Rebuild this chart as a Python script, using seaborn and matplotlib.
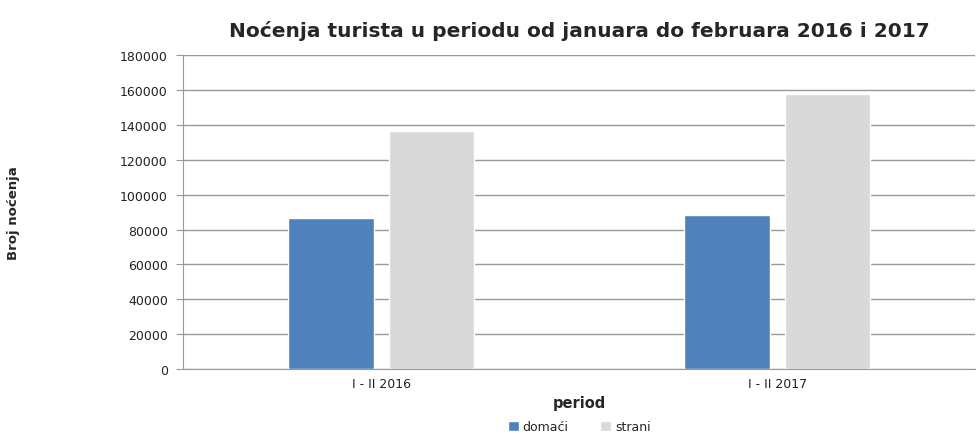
import numpy as np
import pandas as pd
import matplotlib.pyplot as plt
import seaborn as sns

# data
periods = ["I - II 2016", "I - II 2017"]
series = ["domaći", "strani"]
domaci = [86600, 88300]
strani = [136300, 157600]
colors = ["#4f81bd", "#d9d9d9"]
yticks = np.arange(0, 180001, 20000)

df = pd.DataFrame({
    "period": periods * 2,
    "tip": [series[0]] * 2 + [series[1]] * 2,
    "vrijednost": domaci + strani,
})

sns.set_style("white")
plt.rcParams['font.family'] = ['DejaVu Sans']

fig, ax = plt.subplots(figsize=(9.79, 4.39), dpi=100)
sns.barplot(data=df, x="period", y="vrijednost", hue="tip",
            palette=colors, width=0.51, gap=0.15, ax=ax, saturation=1)

ax.set_ylim(0, 180000)
ax.set_yticks(yticks)
ax.set_yticklabels([str(v) for v in yticks], fontsize=9, color='#222222')
ax.tick_params(axis='x', labelsize=9, length=0, pad=6, labelcolor='#222222')
ax.tick_params(axis='y', length=5, color='#999999', direction='out', left=True, pad=6)
ax.grid(axis='y', color='#999999', linewidth=1)
ax.set_axisbelow(True)

for s in ['top', 'right']:
    ax.spines[s].set_visible(False)
for s in ['left', 'bottom']:
    ax.spines[s].set_color('#999999')

ax.set_xlabel("period", fontsize=10.5, fontweight='bold', labelpad=3)
ax.set_ylabel("Broj noćenja", fontsize=9.5, fontweight='bold', labelpad=72)
ax.set_title("Noćenja turista u periodu od januara do februara 2016 i 2017",
             fontsize=14.5, fontweight='bold', pad=14)

ax.legend(loc='upper center', bbox_to_anchor=(0.5, -0.135), ncol=2, frameon=False,
          fontsize=9, handlelength=0.9, handleheight=0.9, columnspacing=2.5,
          handletextpad=0.3, borderpad=0.2)

fig.subplots_adjust(left=0.187, right=0.996, top=0.872, bottom=0.157)
fig.savefig("out.png", dpi=100)
